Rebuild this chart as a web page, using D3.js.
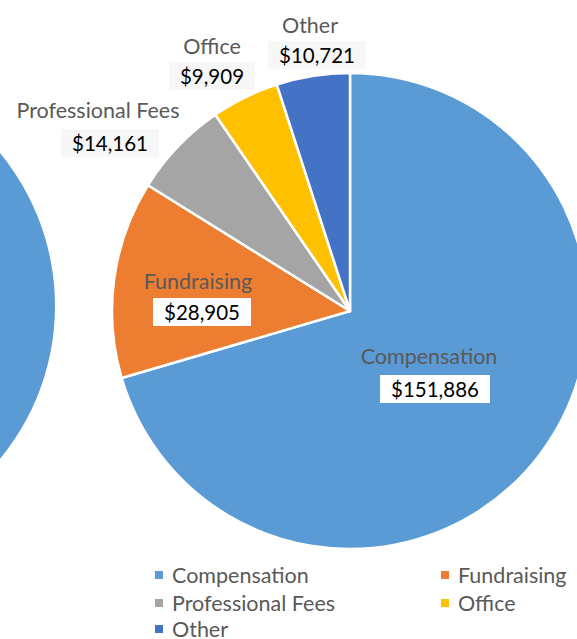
<!DOCTYPE html>
<html>
<head>
<meta charset="utf-8">
<script src="https://cdn.jsdelivr.net/npm/d3@7"></script>
<style>
  html, body { margin: 0; padding: 0; background: #fff; }
  svg { display: block; font-family: Lato, "Open Sans", sans-serif; }
  .cat { fill: #595959; font-size: 21.5px; }
  .val { fill: #000; font-size: 20.5px; }
  .leg { fill: #595959; font-size: 21.5px; }
</style>
</head>
<body>
<div id="chart"></div>
<script>
  const categories = ["Compensation", "Fundraising", "Professional Fees", "Office", "Other"];
  const values = [151886, 28905, 14161, 9909, 10721];
  const colors = ["#5B9BD5", "#ED7D31", "#A5A5A5", "#FFC000", "#4472C4"];

  // label anchor points (name centre, value centre)
  const labelPos = [
    [429, 356, 435, 389],
    [198, 281, 202, 312],
    [98, 110, 110, 143],
    [212, 46, 212, 76],
    [310, 25, 317, 55]
  ];
  // value boxes inside the pie are white, outside ones nearly white
  const boxFill = ["#fff", "#fff", "#f7f7f7", "#f7f7f7", "#f7f7f7"];

  const W = 577, H = 639;
  const cx = 350, cy = 311, R = 238;
  const fmt = d3.format("$,");

  const svg = d3.select("#chart").append("svg")
    .attr("width", W).attr("height", H);

  // neighbouring chart, cut off at the left edge
  svg.append("path")
    .attr("transform", "translate(-185,306)")
    .attr("fill", colors[0])
    .attr("d", d3.arc().innerRadius(0).outerRadius(240)({ startAngle: 0, endAngle: 2 * Math.PI }));

  const pie = d3.pie().sort(null).value(d => d);
  const arc = d3.arc().innerRadius(0).outerRadius(R);
  const slices = pie(values);

  const g = svg.append("g").attr("transform", `translate(${cx},${cy})`);
  g.selectAll("path").data(slices).join("path")
    .attr("d", arc)
    .attr("fill", (d, i) => colors[i])
    .attr("stroke", "#fff")
    .attr("stroke-width", 2.5)
    .attr("stroke-linejoin", "round");

  // data labels
  categories.forEach((c, i) => {
    const [nx, ny, vx, vy] = labelPos[i];
    svg.append("text").attr("class", "cat")
      .attr("x", nx).attr("y", ny)
      .attr("text-anchor", "middle").attr("dominant-baseline", "central")
      .text(c);
    const t = svg.append("text").attr("class", "val")
      .attr("x", vx).attr("y", vy)
      .attr("text-anchor", "middle").attr("dominant-baseline", "central")
      .text(fmt(values[i]));
    const w = t.node().getComputedTextLength();
    svg.insert("rect", () => t.node())
      .attr("x", vx - w / 2 - 11).attr("y", vy - 14)
      .attr("width", w + 22).attr("height", 28)
      .attr("fill", boxFill[i]);
  });

  // legend, two columns
  const legX = [158, 444], legY = [575, 603, 629];
  categories.forEach((c, i) => {
    const x = legX[i % 2], y = legY[Math.floor(i / 2)];
    svg.append("rect").attr("x", x - 3).attr("y", y - 4)
      .attr("width", 8).attr("height", 8).attr("fill", colors[i]);
    svg.append("text").attr("class", "leg")
      .attr("x", x + 14).attr("y", y)
      .attr("dominant-baseline", "central")
      .text(c);
  });
</script>
</body>
</html>
